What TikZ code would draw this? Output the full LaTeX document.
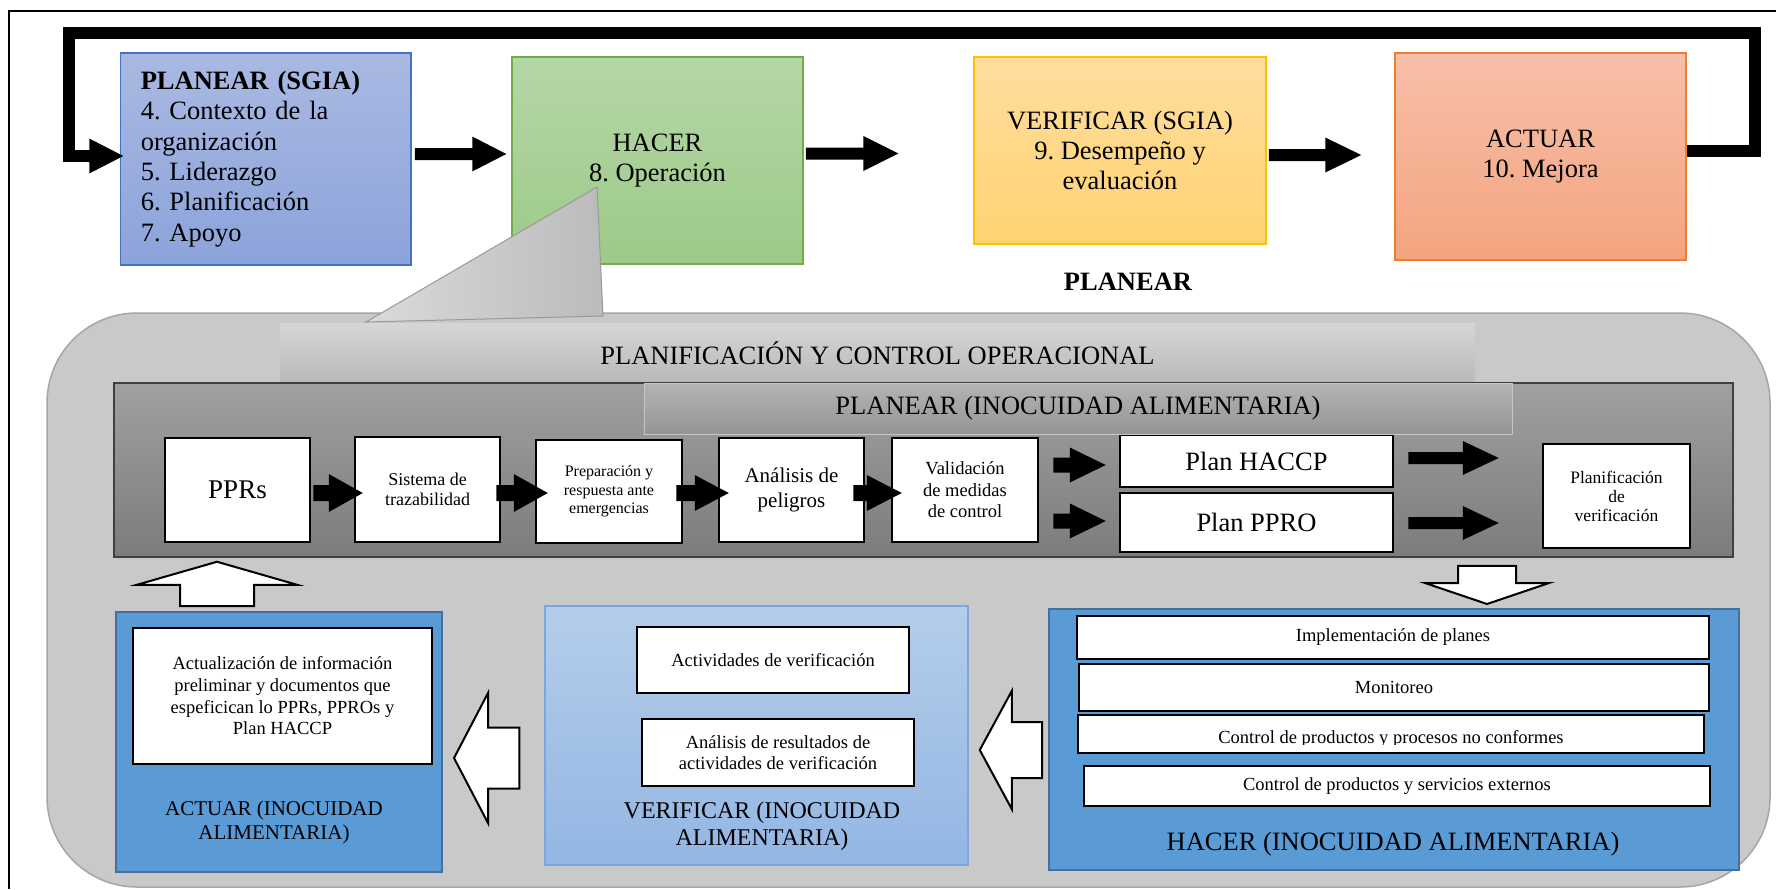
\documentclass[tikz,border=0pt]{standalone}
\usepackage{fontspec}
\setmainfont{Liberation Serif}
\usetikzlibrary{calc}
\frenchspacing

\definecolor{plTop}{HTML}{A9B9E2}
\definecolor{plBot}{HTML}{8CA3DA}
\definecolor{plLine}{HTML}{4472C4}
\definecolor{haTop}{HTML}{B5D6A6}
\definecolor{haBot}{HTML}{9DCA88}
\definecolor{haLine}{HTML}{70AD47}
\definecolor{veTop}{HTML}{FFDD9E}
\definecolor{veBot}{HTML}{FFD372}
\definecolor{veLine}{HTML}{FFC000}
\definecolor{acTop}{HTML}{F7BFA9}
\definecolor{acBot}{HTML}{F4A47F}
\definecolor{acLine}{HTML}{ED7D31}
\definecolor{contFill}{HTML}{C9C9C9}
\definecolor{contLine}{HTML}{A6A6A6}
\definecolor{banTop}{HTML}{D6D6D6}
\definecolor{banBot}{HTML}{B8B8B8}
\definecolor{subTop}{HTML}{B4B4B4}
\definecolor{subBot}{HTML}{949494}
\definecolor{darkTop}{HTML}{A0A0A0}
\definecolor{darkBot}{HTML}{7C7C7C}
\definecolor{blueFill}{HTML}{5B9BD5}
\definecolor{blueLine}{HTML}{41719C}
\definecolor{lbTop}{HTML}{B4CDEA}
\definecolor{lbBot}{HTML}{93B6E3}
\definecolor{lbLine}{HTML}{7AA7DD}
\definecolor{tailA}{HTML}{DADADA}
\definecolor{tailB}{HTML}{BBBBBB}

\newcommand\setfs[2]{\fontsize{#1pt}{#2pt}\selectfont}

\tikzset{
  topbox/.style={draw, line width=1.5pt, inner sep=0pt, align=center,
    font=\setfs{26.5}{30.3}},
  rowbox/.style={draw=black, line width=2.5pt, fill=white, inner sep=1pt, align=center},
  listbox/.style={draw=black, line width=2.5pt, fill=white, inner sep=0pt, align=center,
    font=\setfs{18.5}{21.7}},
  bluebox/.style={draw=blueLine, fill=blueFill, line width=2pt, inner sep=0pt},
  hollow/.style={fill=white, draw=black, line width=2pt, line join=miter},
  % block arrow pointing right: shaft half-width, head half-width, head length
  blockR/.style n args={3}{to path={let \p1=(\tikztostart), \p2=(\tikztotarget) in
    (\x1,\y1+#1) -- (\x2-#3,\y1+#1) -- (\x2-#3,\y1+#2) -- (\x2,\y1)
    -- (\x2-#3,\y1-#2) -- (\x2-#3,\y1-#1) -- (\x1,\y1-#1) -- cycle}},
  blockL/.style n args={3}{to path={let \p1=(\tikztostart), \p2=(\tikztotarget) in
    (\x1,\y1+#1) -- (\x2+#3,\y1+#1) -- (\x2+#3,\y1+#2) -- (\x2,\y1)
    -- (\x2+#3,\y1-#2) -- (\x2+#3,\y1-#1) -- (\x1,\y1-#1) -- cycle}},
  blockU/.style n args={3}{to path={let \p1=(\tikztostart), \p2=(\tikztotarget) in
    (\x1-#1,\y1) -- (\x1-#1,\y2-#3) -- (\x1-#2,\y2-#3) -- (\x1,\y2)
    -- (\x1+#2,\y2-#3) -- (\x1+#1,\y2-#3) -- (\x1+#1,\y1) -- cycle}},
  blockD/.style n args={3}{to path={let \p1=(\tikztostart), \p2=(\tikztotarget) in
    (\x1-#1,\y1) -- (\x1-#1,\y2+#3) -- (\x1-#2,\y2+#3) -- (\x1,\y2)
    -- (\x1+#2,\y2+#3) -- (\x1+#1,\y2+#3) -- (\x1+#1,\y1) -- cycle}},
  loopline/.style={line width=12pt, line join=miter, line cap=butt},
}

\begin{document}
\begin{tikzpicture}[x=1pt,y=-1pt]
\useasboundingbox (0,0) rectangle (1776,889);
\fill[white] (0,0) rectangle (1776,889);

% page frame
\draw[line width=2pt] (9,889) -- (9,11) -- (1776,11);

% ---------- PDCA row (SGIA) ----------
\node[topbox, top color=plTop, bottom color=plBot, draw=plLine,
  minimum width=290.5pt, minimum height=212pt, text width=250pt, align=left]
  (pl) at (265.75,159)
  {\textbf{PLANEAR (SGIA)}\\4. Contexto de la\\organización\\5. Liderazgo\\6. Planificación\\7. Apoyo};
\node[topbox, top color=haTop, bottom color=haBot, draw=haLine,
  minimum width=291pt, minimum height=207pt] (ha) at (657.5,160.5)
  {HACER\\8. Operación};
\node[topbox, top color=veTop, bottom color=veBot, draw=veLine,
  minimum width=292pt, minimum height=187pt] (ve) at (1120,150.5)
  {VERIFICAR (SGIA)\\9. Desempeño y\\evaluación};
\node[topbox, top color=acTop, bottom color=acBot, draw=acLine,
  minimum width=291pt, minimum height=207pt] (ac) at (1540.5,156.5)
  {ACTUAR\\10. Mejora};
\node[anchor=base, font=\setfs{26.5}{30.3}\bfseries] (plLab) at (1128,290) {PLANEAR};

\fill[blockR={6pt}{17.5pt}{34pt}] ($(pl.east)+(3,-5)$) to ($(ha.west)+(-5,0)$);
\fill[blockR={6pt}{17.5pt}{35pt}] ($(ha.east)+(2,-7)$) to ($(ve.west)+(-75,0)$);
\fill[blockR={6pt}{17.5pt}{36pt}] ($(ve.east)+(2,4.5)$) to ($(ac.west)+(-33,0)$);

% feedback loop from ACTUAR back to PLANEAR
\coordinate (lpR) at (1755,33);
\coordinate (lpL) at (69,156);
\draw[loopline] ($(ac.east)+(0,-5.5)$) -| (lpR) -| (lpL) -- ($(pl.west)+(-30,-3)$);
\fill[blockR={6pt}{17.5pt}{34pt}] ($(pl.west)+(-32,-3)$) to ($(pl.west)+(3.5,0)$);

% ---------- operational planning and control ----------
\node[draw=contLine, fill=contFill, line width=1.5pt, rounded corners=90pt,
  minimum width=1723pt, minimum height=574pt] (cont) at (908.5,600) {};

% callout tail from "8. Operación"
\draw[draw=black!40, line width=1pt, left color=tailA, right color=tailB]
  (597,187) -- (366,322) -- (603,316) -- cycle;

\node[top color=banTop, bottom color=banBot, inner sep=0pt,
  minimum width=1195pt, minimum height=60pt, font=\setfs{26.5}{30.3}]
  (ban) at (877.5,353) {PLANIFICACIÓN Y CONTROL OPERACIONAL};

\node[draw=black!75, line width=1.5pt, top color=darkTop, bottom color=darkBot,
  minimum width=1619pt, minimum height=174pt] (pla) at (923.5,470) {};

% planning steps
\node[rowbox, minimum width=145pt, minimum height=104pt, font=\setfs{27}{31}]
  (ppr) at (237.5,490) {PPRs};
\node[rowbox, minimum width=145pt, minimum height=105pt, font=\setfs{18}{20}]
  (sis) at (427.5,489.5) {Sistema de\\trazabilidad};
\node[rowbox, minimum width=146pt, minimum height=103pt, font=\setfs{16}{18.5}]
  (pre) at (609,491.5) {Preparación y\\respuesta ante\\emergencias};
\node[rowbox, minimum width=145pt, minimum height=104pt, font=\setfs{21}{25}]
  (ana) at (791.5,490) {Análisis de\\peligros};
\node[rowbox, minimum width=146pt, minimum height=104pt, font=\setfs{18.5}{21.5}]
  (val) at (965,490) {Validación\\de medidas\\de control};
\node[rowbox, minimum width=273pt, minimum height=52pt, font=\setfs{26.5}{30}]
  (hac) at (1256.5,461) {Plan HACCP};
\node[rowbox, minimum width=273pt, minimum height=59pt, font=\setfs{26.5}{30}]
  (ppro) at (1256.5,522.5) {Plan PPRO};
\node[rowbox, minimum width=147pt, minimum height=104pt, font=\setfs{17.5}{19}]
  (pver) at (1616.5,496) {Planificación\\de\\verificación};

\node[draw=black!22, line width=1pt, top color=subTop, bottom color=subBot,
  minimum width=868pt, minimum height=51pt, inner sep=0pt, font=\setfs{26.5}{30}]
  (sub) at (1078,408.5) {PLANEAR (INOCUIDAD ALIMENTARIA)};

\fill[blockR={8pt}{19pt}{34pt}] ($(ppr.east)+(2,3)$) to ($(sis.west)+(9,0)$);
\fill[blockR={8pt}{19pt}{34pt}] ($(sis.east)+(-5,3.5)$) to ($(pre.west)+(13,0)$);
\fill[blockR={8pt}{18pt}{34pt}] ($(pre.east)+(-7,1.5)$) to ($(ana.west)+(11,0)$);
\fill[blockR={8pt}{18pt}{35pt}] ($(ana.east)+(-12,3)$) to ($(val.west)+(11,0)$);
\fill[blockR={7.5pt}{17.5pt}{36pt}] ($(val.east)+(14,-25)$) to ($(hac.west)+(-13,0)$);
\fill[blockR={7.5pt}{17.5pt}{36pt}] ($(val.east)+(14,31)$) to ($(ppro.west)+(-13,0)$);
\fill[blockR={6pt}{17pt}{36pt}] ($(hac.east)+(14,-3)$) to ($(pver.west)+(-43,0)$);
\fill[blockR={6pt}{17pt}{36pt}] ($(ppro.east)+(14,0.5)$) to ($(pver.west)+(-43,0)$);

% ---------- ACTUAR (food safety) ----------
\node[bluebox, minimum width=326pt, minimum height=260pt] (aI) at (279,742) {};
\node[listbox, minimum width=299pt, minimum height=136pt] (aIbox) at (282.5,696)
  {Actualización de información\\preliminar y documentos que\\espeficican lo PPRs, PPROs y\\Plan HACCP};
\node[align=center, font=\setfs{21}{24}] (aIlab) at (274,822)
  {ACTUAR (INOCUIDAD\\ALIMENTARIA)};

% ---------- VERIFICAR (food safety) ----------
\node[draw=lbLine, line width=1.5pt, top color=lbTop, bottom color=lbBot,
  minimum width=423pt, minimum height=259pt] (vI) at (756.5,735.5) {};
\node[listbox, minimum width=272pt, minimum height=66pt] (vIa) at (773,660)
  {Actividades de verificación};
\node[listbox, minimum width=272pt, minimum height=67pt] (vIb) at (778,752.5)
  {Análisis de resultados de\\actividades de verificación};
\node[align=center, font=\setfs{24}{27}] (vIlab) at (762,826.5)
  {VERIFICAR (INOCUIDAD\\ALIMENTARIA)};

% ---------- HACER (food safety) ----------
\node[bluebox, minimum width=690pt, minimum height=261pt] (hI) at (1394,739.5) {};
\node[listbox, minimum width=632pt, minimum height=43pt] (h1) at (1393,637.5)
  {Implementación de planes};
\node[listbox, minimum width=630pt, minimum height=47pt] (h2) at (1394,687.5)
  {Monitoreo};
\node[listbox, minimum width=626pt, minimum height=38pt] (h3) at (1391,734) {};
\begin{scope}
  \clip ($(h3.north west)$) rectangle ($(h3.east)+(0,10)$);
  \node[anchor=base, font=\setfs{18.5}{21.7}] (h3t) at ($(h3.center)+(0,9)$)
    {Control de productos y procesos no conformes};
\end{scope}
\node[listbox, minimum width=626pt, minimum height=40pt] (h4) at (1397,786)
  {Control de productos y servicios externos};
\node[anchor=base, font=\setfs{26.5}{30}] (hIlab) at (1393,850)
  {HACER (INOCUIDAD ALIMENTARIA)};

% ---------- hollow cycle arrows ----------
\filldraw[hollow, blockD={29pt}{62pt}{21pt}] ($(pla.south)+(563.5,8)$) to ($(hI.north)+(0,-4)$);
\filldraw[hollow, blockL={28pt}{59pt}{32pt}] ($(hI.west)+(-6,10.5)$) to ($(vI.east)+(11,0)$);
\filldraw[hollow, blockL={30.5pt}{65pt}{34pt}] ($(vI.west)+(-25,22.5)$) to ($(aI.east)+(11,0)$);
\filldraw[hollow, blockU={37pt}{80pt}{23pt}] ($(aI.north)+(-62,-5)$) to ($(pla.south)+(0,4)$);

\end{tikzpicture}
\end{document}
